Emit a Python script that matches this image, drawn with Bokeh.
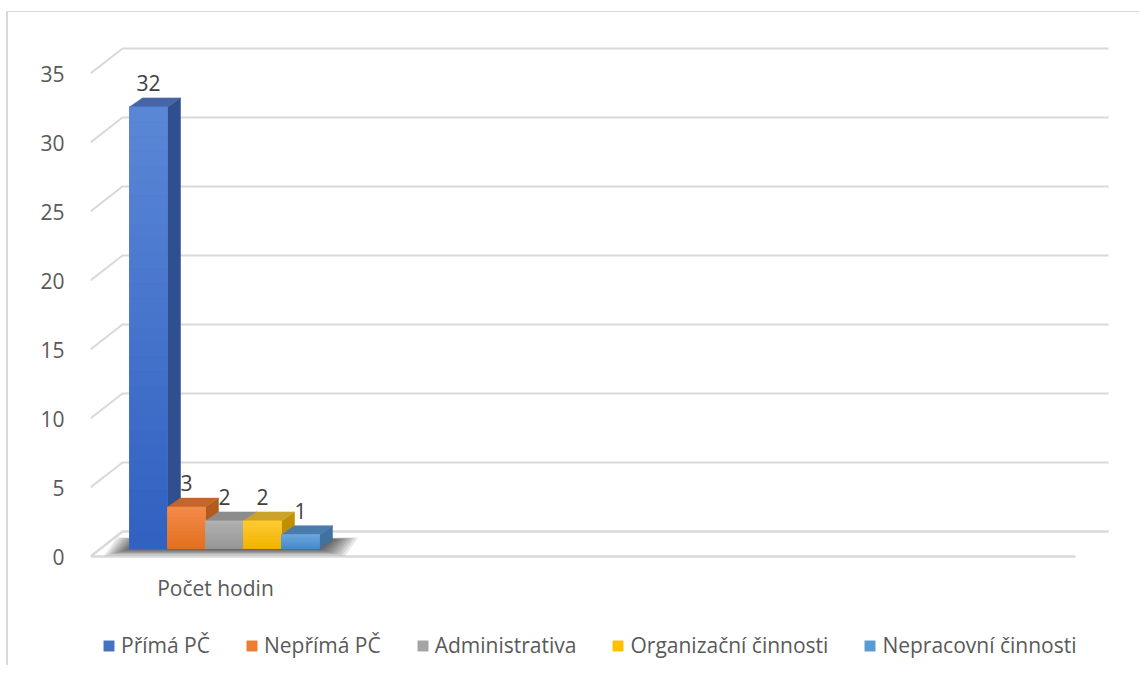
from bokeh.plotting import figure
from bokeh.models import Range1d, LinearAxis, FixedTicker, Legend, LegendItem, ColumnDataSource
from bokeh.embed import file_html
from bokeh.resources import INLINE

# ---------------- data ----------------
series = ["Přímá PČ", "Nepřímá PČ", "Administrativa", "Organizační činnosti", "Nepracovní činnosti"]
values = [32, 3, 2, 2, 1]
category = ["Počet hodin"]
y_ticks = [0, 5, 10, 15, 20, 25, 30, 35]

front_colors = ["#4472C4", "#ED7D31", "#A5A5A5", "#FFC000", "#5B9BD5"]
front_top = ["#5B87D6", "#F48C4C", "#B2B2B2", "#FFCB36", "#6BA7DE"]
front_bottom = ["#3061C1", "#E2701F", "#979797", "#F0B400", "#478BCC"]
side_colors = ["#2F4F8E", "#B35A1F", "#7C7C7C", "#BF9000", "#41719F"]
top_colors = ["#4664A6", "#C4652A", "#8C8C8C", "#CCA32A", "#4B7BAA"]

FONT = "Open Sans"
FSIZE = "21px"

# ---------------- geometry (pixels -> data units) ----------------
PXX = 38.0    # px per x unit (one bar width)
PXY = 13.8    # px per value unit
FRAME_W, FRAME_H = 1020, 635
Y0 = -117 / PXY
Y1 = Y0 + FRAME_H / PXY
BAR_DX, BAR_DY = 13 / PXX, 9 / PXY          # bar depth
WALL_FRONT = -8 / PXY                        # front edge offset of grid diagonals
WALL_BACK = 17 / PXY                         # back wall offset
WALL_DX = 32 / PXX
FLOOR_RIGHT = 985 / PXX
BAR0 = 58 / PXX                              # centre of first bar
XMAX = FRAME_W / PXX


def mix(c1, c2, t):
    a = [int(c1[k:k + 2], 16) for k in (1, 3, 5)]
    b = [int(c2[k:k + 2], 16) for k in (1, 3, 5)]
    return "#" + "".join("%02X" % round(a[j] + (b[j] - a[j]) * t) for j in range(3))


p = figure(frame_width=FRAME_W, frame_height=FRAME_H,
           min_border_left=82, min_border_right=29, min_border_top=18, min_border_bottom=0,
           x_range=Range1d(0, XMAX), y_range=Range1d(Y0, Y1),
           x_axis_location=None, y_axis_location=None,
           output_backend="svg", toolbar_location=None)
p.grid.visible = False
p.outline_line_color = None
p.background_fill_color = "white"
p.border_fill_color = "white"
p.styles = {"border-top": "1px solid #D9D9D9", "border-left": "2px solid #D9D9D9",
            "margin-left": "6px", "margin-top": "11px"}

# floor outline (open on the right)
p.line([FLOOR_RIGHT, 0, WALL_DX, XMAX - 0.05],
       [WALL_FRONT, WALL_FRONT, WALL_BACK, WALL_BACK],
       line_color="#D9D9D9", line_width=2.5)

# back-wall gridlines with their diagonal left part
gx, gy = [], []
for v in y_ticks[1:]:
    gx.append([0, WALL_DX, XMAX - 0.05])
    gy.append([v + WALL_FRONT, v + WALL_BACK, v + WALL_BACK])
p.multi_line(gx, gy, line_color="#D9D9D9", line_width=2)

# shadow under the bars
n = len(values)
xl0 = BAR0 - 0.5
xr = BAR0 - 0.5 + n
for k in range(10):
    ex = 0.075 * k
    ey = 0.055 * k
    p.patch([xl0 - ex, xr + ex, xr + BAR_DX + ex, xl0 + BAR_DX - ex],
            [0 - ey - 0.05, 0 - ey - 0.05, BAR_DY + ey * 0.3, BAR_DY + ey * 0.3],
            fill_color="black", fill_alpha=0.09, line_color=None)

# bars: side, top, front for each series, left to right
renderers = []
NSTRIP = 30
for i, (s, v) in enumerate(zip(series, values)):
    xc = BAR0 + i
    l, r = xc - 0.5, xc + 0.5
    p.patch([r, r + BAR_DX, r + BAR_DX, r], [0, BAR_DY, v + BAR_DY, v],
            fill_color=side_colors[i], line_color=side_colors[i], line_width=0.5)
    p.patch([l, r, r + BAR_DX, l + BAR_DX], [v, v, v + BAR_DY, v + BAR_DY],
            fill_color=top_colors[i], line_color=top_colors[i], line_width=0.5)
    rr = p.vbar(x=[xc], width=1, top=[v], bottom=0,
                fill_color=front_colors[i], line_color=front_colors[i], line_width=0.5)
    renderers.append(rr)
    # vertical gradient on the front face
    bots = [v * k / NSTRIP for k in range(NSTRIP)]
    tops = [v * (k + 1) / NSTRIP for k in range(NSTRIP)]
    cols = [mix(front_bottom[i], front_top[i], (k + 0.5) / NSTRIP) for k in range(NSTRIP)]
    p.quad(left=l, right=r, bottom=bots, top=tops, fill_color=cols, line_color=cols, line_width=0.6)

# data labels
src = ColumnDataSource(dict(x=[BAR0 + i for i in range(n)],
                            y=[v + BAR_DY + 15 / PXY for v in values],
                            t=[str(v) for v in values]))
p.text(x="x", y="y", text="t", source=src, text_align="center", text_baseline="middle",
       text_font={"value": FONT}, text_font_size=FSIZE, text_color="#404040")

# y axis (labels at front edge of the wall diagonals)
p.extra_y_ranges = {"lab": Range1d(Y0 - WALL_FRONT, Y1 - WALL_FRONT)}
ya = LinearAxis(y_range_name="lab", ticker=FixedTicker(ticks=y_ticks),
                axis_line_color=None, major_tick_line_color=None, minor_tick_line_color=None,
                major_label_standoff=20, major_label_text_font=FONT,
                major_label_text_font_size=FSIZE, major_label_text_color="#595959")
p.add_layout(ya, "left")

# category axis, fixed just below the floor
p.extra_x_ranges = {"cat": Range1d(0, FRAME_W / 125)}
xa = LinearAxis(x_range_name="cat", ticker=FixedTicker(ticks=[1]),
                major_label_overrides={1: category[0]}, fixed_location=-17 / PXY,
                axis_line_color=None, major_tick_line_color=None, minor_tick_line_color=None,
                major_label_standoff=2, major_label_text_font=FONT,
                major_label_text_font_size=FSIZE, major_label_text_color="#595959")
p.add_layout(xa, "below")

legend = Legend(items=[LegendItem(label=s, renderers=[r]) for s, r in zip(series, renderers)],
                orientation="horizontal", location=(12, 6),
                glyph_width=13, glyph_height=13, label_standoff=6, spacing=35,
                padding=0, margin=0, border_line_color=None, background_fill_alpha=0,
                label_text_font=FONT, label_text_font_size=FSIZE, label_text_color="#595959")
p.add_layout(legend)

open("out.html", "w").write(file_html(p, INLINE))
